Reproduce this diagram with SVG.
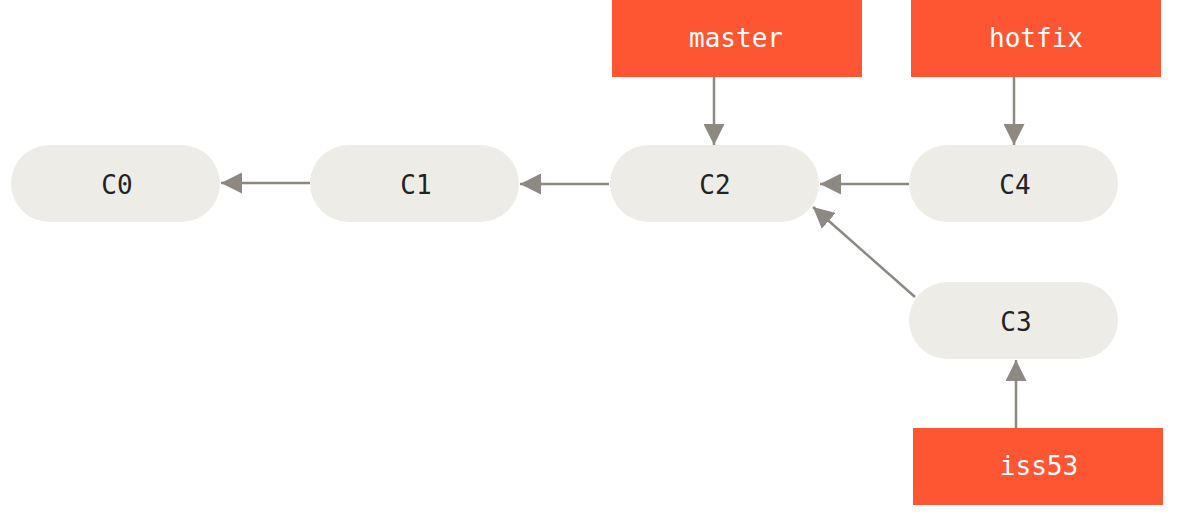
<svg xmlns="http://www.w3.org/2000/svg" width="1177" height="514" viewBox="0 0 1177 514">
<style>
.commit{fill:#edece6}
.branch{fill:#fe5532}
.ct{font-family:"DejaVu Sans Mono","Liberation Mono",monospace;font-size:26px;fill:#222;text-anchor:middle;dominant-baseline:central}
.bt{font-family:"DejaVu Sans Mono","Liberation Mono",monospace;font-size:26px;fill:#fff;text-anchor:middle;dominant-baseline:central}
.edge{stroke:#8d8982;stroke-width:2.5;fill:none;marker-end:url(#ah)}
</style>
<defs>
<marker id="ah" viewBox="0 0 10 10" refX="10" refY="5" markerWidth="8.4" markerHeight="8.4" markerUnits="strokeWidth" orient="auto">
<path d="M0,0 L10,5 L0,10 z" fill="#8d8982"/>
</marker>
</defs>
<g id="connectors">
<line class="edge" x1="310" y1="183" x2="221" y2="183"/>
<line class="edge" x1="609" y1="184" x2="520" y2="184"/>
<line class="edge" x1="909" y1="184" x2="820" y2="184"/>
<line class="edge" x1="915" y1="297" x2="813" y2="207"/>
<line class="edge" x1="714" y1="77" x2="714" y2="145"/>
<line class="edge" x1="1014" y1="77" x2="1014" y2="145"/>
<line class="edge" x1="1016" y1="428" x2="1016" y2="360"/>
</g>
<g id="C0"><rect class="commit" x="11" y="145" width="209" height="77" rx="38.5"/><text class="ct" x="117" y="185">C0</text></g>
<g id="C1"><rect class="commit" x="310" y="145" width="209" height="77" rx="38.5"/><text class="ct" x="416" y="185">C1</text></g>
<g id="C2"><rect class="commit" x="610" y="145" width="209" height="77" rx="38.5"/><text class="ct" x="715" y="185">C2</text></g>
<g id="C4"><rect class="commit" x="909" y="145" width="209" height="77" rx="38.5"/><text class="ct" x="1015" y="185">C4</text></g>
<g id="C3"><rect class="commit" x="909" y="282" width="209" height="77" rx="38.5"/><text class="ct" x="1016" y="322">C3</text></g>
<g id="master"><rect class="branch" x="612" y="0" width="250" height="77"/><text class="bt" x="736" y="38">master</text></g>
<g id="hotfix"><rect class="branch" x="911" y="0" width="250" height="77"/><text class="bt" x="1036" y="38">hotfix</text></g>
<g id="iss53"><rect class="branch" x="913" y="428" width="250" height="77"/><text class="bt" x="1039" y="466">iss53</text></g>
</svg>
